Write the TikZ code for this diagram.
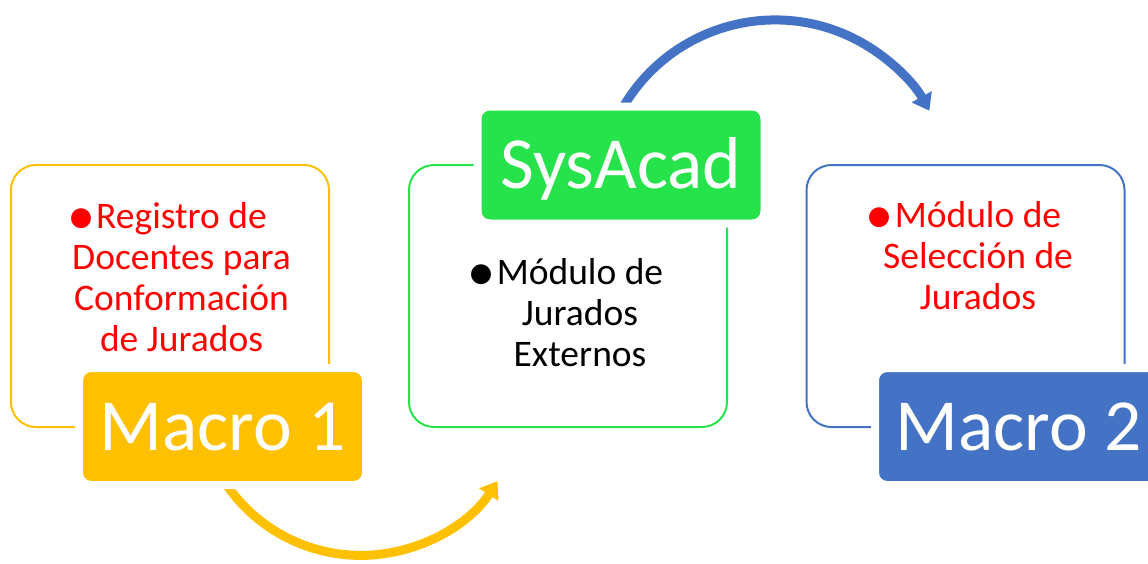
\documentclass[tikz,border=0pt]{standalone}
\usepackage{fontspec}
\setmainfont{Carlito}
\usetikzlibrary{arrows.meta}
\definecolor{cY}{HTML}{FFC000}
\definecolor{cG}{HTML}{26E34C}
\definecolor{cB}{HTML}{4472C4}
\definecolor{cR}{HTML}{FF0000}
\newcommand{\bul}{\llap{\raisebox{-6.5pt}{\scalebox{1.5}{•}}\hspace{1pt}}}
\begin{document}
\begin{tikzpicture}[x=1pt,y=-1pt,
 frame/.style={line width=2pt, rounded corners=25pt, minimum width=318pt, minimum height=262pt, inner sep=0pt},
 lab/.style={draw=white, line width=8pt, rounded corners=12pt, minimum width=287pt, minimum height=117pt, inner sep=0pt, text=white, font=\fontsize{73.5}{73.5}\selectfont, text height=47pt, text depth=0pt},
 body/.style={font=\fontsize{37.5}{41}\selectfont, anchor=base, inner sep=0pt},
 flow/.style={line width=9pt, -{Triangle[length=16pt,width=22pt]}}]
\useasboundingbox (0,0) rectangle (1148,563);
% frames
\node[frame, draw=cY] (b1) at (170,296) {};
\node[frame, draw=cG] (b2) at (568,296) {};
\node[frame, draw=cB] (b3) at (965.5,296) {};
% label centres
\path (222.5,426.5) coordinate (m1c) (621,165) coordinate (sac) (1018.5,426.5) coordinate (m2c);
% arrows
\coordinate (ys) at (226,484);
\coordinate (bs) at (623,107.3);
\draw[flow, cY] (ys) arc[start angle=145.8, end angle=33, radius=163];
\draw[flow, cB] (bs) arc[start angle=210.3, end angle=331, radius=176.3];
% labels
\node[lab, fill=cY] (m1) at (m1c) {Macro 1};
\node[lab, fill=cG] (sa) at (sac) {SysAcad};
\node[lab, fill=cB] (m2) at (m2c) {Macro 2};
% body texts
\node[body, text=cR] (t1a) at (181.5,228) {\bul Registro de};
\node[body, text=cR] (t1b) at (181.5,269) {Docentes para};
\node[body, text=cR] (t1c) at (181.5,310) {Conformación};
\node[body, text=cR] (t1d) at (181.5,351) {de Jurados};
\node[body, text=black] (t2a) at (580,284) {\bul Módulo de};
\node[body, text=black] (t2b) at (580,325) {Jurados};
\node[body, text=black] (t2c) at (580,366) {Externos};
\node[body, text=cR] (t3a) at (978,227) {\bul Módulo de};
\node[body, text=cR] (t3b) at (978,268) {Selección de};
\node[body, text=cR] (t3c) at (978,309) {Jurados};
\end{tikzpicture}
\end{document}
